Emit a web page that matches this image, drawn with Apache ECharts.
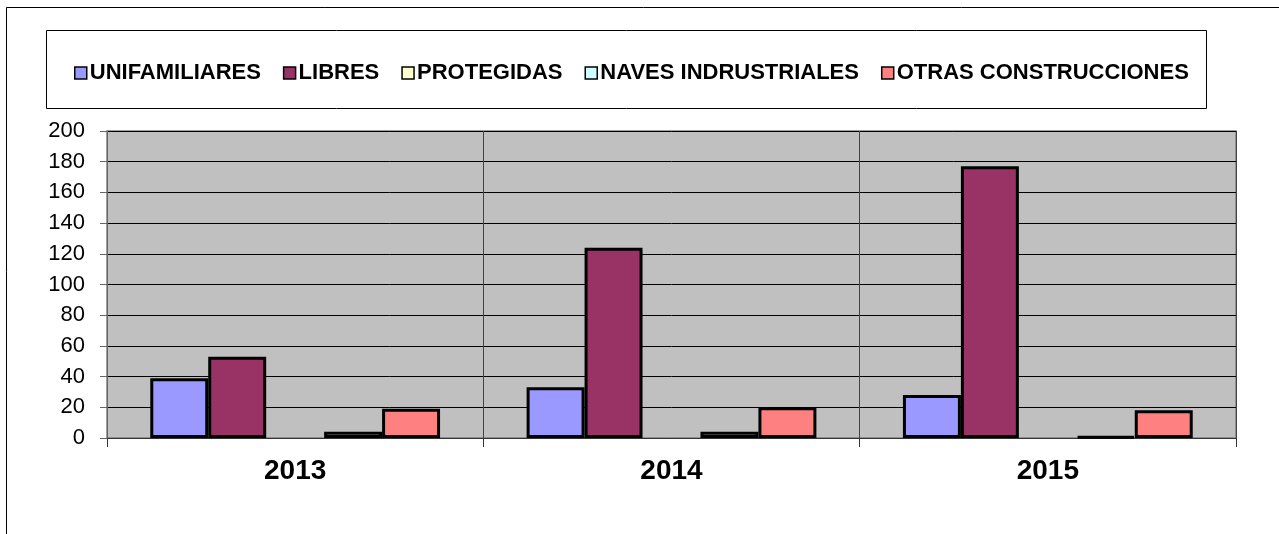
<!DOCTYPE html>
<html>
<head>
<meta charset="utf-8">
<style>
  html, body { margin: 0; padding: 0; background: #fff; }
  #chart { width: 1279px; height: 534px; }
</style>
<script src="https://cdn.jsdelivr.net/npm/echarts@6/dist/echarts.min.js"></script>
</head>
<body>
<div id="chart"></div>
<script>
const years = ['2013', '2014', '2015'];
const seriesNames = ['UNIFAMILIARES', 'LIBRES', 'PROTEGIDAS', 'NAVES INDRUSTRIALES', 'OTRAS CONSTRUCCIONES'];
const unifamiliares = [39, 33, 28];
const libres = [53, 124, 177];
const protegidas = [0, 0, 0];
const naves = [4, 4, 1];
const otras = [19, 20, 18];
const yTicks = { min: 0, max: 200, interval: 20 };

const colors = ['#9999FF', '#993366', '#FFFFCC', '#CCFFFF', '#FF8080'];
const values = [unifamiliares, libres, protegidas, naves, otras];
const font = 'Liberation Sans, Arial, sans-serif';

const chart = echarts.init(document.getElementById('chart'));

chart.setOption({
    animation: false,
    graphic: [
        // outer chart frame (right/bottom edges fall outside the window)
        { type: 'rect', z: -10, shape: { x: 6.5, y: 7.5, width: 1400, height: 700 },
          style: { fill: '#fff', stroke: '#000', lineWidth: 1 } },
        // legend frame
        { type: 'rect', z: -5, shape: { x: 46.5, y: 30.5, width: 1160, height: 78 },
          style: { fill: '#fff', stroke: '#000', lineWidth: 1 } }
    ],
    legend: {
        data: seriesNames,
        left: 69,
        top: 57,
        itemWidth: 12,
        itemHeight: 12,
        itemGap: 22,
        icon: 'rect',
        itemStyle: { borderColor: '#000', borderWidth: 1.5 },
        textStyle: { fontFamily: font, fontWeight: 'bold', fontSize: 22, color: '#000', padding: [0, 0, 0, -2] }
    },
    grid: {
        left: 107, right: 43, top: 131, bottom: 96,
        show: true, backgroundColor: '#C0C0C0', borderColor: '#808080', borderWidth: 1.5
    },
    xAxis: {
        type: 'category',
        data: years,
        axisLine: { show: true, lineStyle: { color: '#333', width: 1 } },
        axisTick: { show: true, length: 9, lineStyle: { color: '#333' } },
        splitLine: { show: true, interval: 0, lineStyle: { color: '#444', width: 1 } },
        axisLabel: { fontFamily: font, fontWeight: 'bold', fontSize: 28, color: '#000', margin: 19 }
    },
    yAxis: {
        type: 'value',
        min: yTicks.min, max: yTicks.max, interval: yTicks.interval,
        axisLine: { show: true, lineStyle: { color: '#666', width: 1 } },
        axisTick: { show: true, length: 7, lineStyle: { color: '#666' } },
        splitLine: { show: true, lineStyle: { color: '#000', width: 1 } },
        axisLabel: { fontFamily: font, fontSize: 22, color: '#000', margin: 22 }
    },
    series: seriesNames.map((name, i) => ({
        name,
        type: 'bar',
        data: values[i],
        barGap: '0%',
        barCategoryGap: '23%',
        itemStyle: {
            color: colors[i],
            borderColor: '#000',
            borderWidth: name === 'PROTEGIDAS' ? 0 : 3
        }
    }))
});
</script>
</body>
</html>
